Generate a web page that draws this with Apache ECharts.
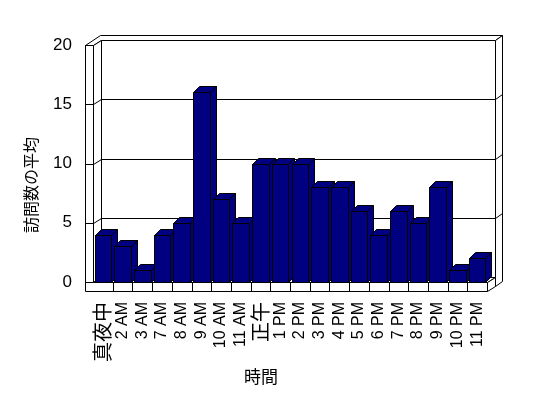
<!DOCTYPE html>
<html>
<head>
<meta charset="utf-8">
<script src="https://cdn.jsdelivr.net/npm/echarts@6/dist/echarts.min.js"></script>
<style>
html,body{margin:0;padding:0;background:#fff;}
#chart{width:548px;height:398px;}
</style>
</head>
<body>
<div id="chart"></div>
<script>
const categories = ['真夜中','2 AM','3 AM','7 AM','8 AM','9 AM','10 AM','11 AM','正午','1 PM','2 PM','3 PM','4 PM','5 PM','6 PM','7 PM','8 PM','9 PM','10 PM','11 PM'];
const visits = [4,3,1,4,5,16,7,5,10,10,10,8,8,6,4,6,5,8,1,2];
const yTicks = [0,5,10,15,20];
const xTitle = '時間';
const yTitle = '訪問数の平均';

const FONT = "'Liberation Sans','Noto Sans CJK JP',sans-serif";
const CJK = "'Noto Sans CJK JP',sans-serif";
const NAVY = '#000080';

const chart = echarts.init(document.getElementById('chart'), null, {renderer:'canvas'});

function px(v){ return Math.round(v) + 0.5; }

function renderFrame(params, api){
  const cs = params.coordSys;
  const X0 = px(cs.x), X1 = px(cs.x + cs.width);
  const y = v => px(api.coord([0, v])[1]);
  const Y0 = y(yTicks[0]), Yt = y(yTicks[yTicks.length-1]);
  const dx = 8, dy = -5, tx = 7, ty = -5, wt = 8, ft = 9;
  const fillSt = {fill:'#fff', stroke:'#000', lineWidth:1};
  const lnSt = {stroke:'#000', lineWidth:1};
  const ch = [];
  const poly = pts => ch.push({type:'polygon', shape:{points:pts}, style:fillSt});
  const line = (x1,y1,x2,y2) => ch.push({type:'line', shape:{x1,y1,x2,y2}, style:lnSt});
  // back wall
  poly([[X0+dx,Yt+dy],[X1+dx,Yt+dy],[X1+dx,Y0+dy],[X0+dx,Y0+dy]]);
  // top faces
  poly([[X0-wt,Yt],[X0,Yt],[X0+dx,Yt+dy],[X1+dx,Yt+dy],[X1+dx+tx,Yt+dy+ty],[X0-wt+dx+tx,Yt+dy+ty]]);
  // back wall right face
  poly([[X1+dx,Yt+dy],[X1+dx+tx,Yt+dy+ty],[X1+dx+tx,Y0+dy+ty+ft],[X1+dx,Y0+dy+ft]]);
  // left wall inner face
  poly([[X0,Yt],[X0+dx,Yt+dy],[X0+dx,Y0+dy],[X0,Y0]]);
  // floor top
  poly([[X0,Y0],[X0+dx,Y0+dy],[X1+dx,Y0+dy],[X1,Y0]]);
  // floor right face
  poly([[X1,Y0],[X1+dx,Y0+dy],[X1+dx,Y0+dy+ft],[X1,Y0+ft]]);
  // front L (left wall front + floor front)
  poly([[X0-wt,Yt],[X0,Yt],[X0,Y0],[X1,Y0],[X1,Y0+ft],[X0-wt,Y0+ft]]);
  // gridlines
  yTicks.forEach(v => {
    const yy = y(v);
    if (v !== yTicks[0] && v !== yTicks[yTicks.length-1]) {
      line(X0+dx, yy+dy, X1+dx, yy+dy);
      line(X0, yy, X0+dx, yy+dy);
      line(X1+dx, yy+dy, X1+dx+tx, yy+dy+ty);
    }
    line(X0-wt, yy, X0, yy);
  });
  // category dividers on floor front
  const band = cs.width / categories.length;
  for (let k = 1; k < categories.length; k++) {
    const xx = px(cs.x + k*band);
    line(xx, Y0, xx, Y0+ft);
  }
  return {type:'group', children: ch};
}

function renderBar(params, api){
  const xi = api.value(0), v = api.value(1);
  const b = api.coord([xi, 0]);
  const t = api.coord([xi, v]);
  const bw = api.size([1,0])[0] * 0.84;
  const l = px(b[0] - bw/2), r = px(b[0] + bw/2);
  const yb = px(b[1]), yt = px(t[1]);
  const dx = 6, dy = -6;
  const st = {fill:NAVY, stroke:'#000', lineWidth:1};
  return {type:'group', children:[
    {type:'polygon', shape:{points:[[r,yt],[r+dx,yt+dy],[r+dx,yb+dy],[r,yb]]}, style:st},
    {type:'polygon', shape:{points:[[l,yt],[l+dx,yt+dy],[r+dx,yt+dy],[r,yt]]}, style:st},
    {type:'polygon', shape:{points:[[l,yt],[r,yt],[r,yb],[l,yb]]}, style:st}
  ]};
}

const option = {
  backgroundColor:'#fff',
  animation:false,
  grid:{left:93, right:61, top:45, bottom:116, containLabel:false},
  xAxis:{
    type:'category', data:categories, boundaryGap:true,
    axisLine:{show:false}, axisTick:{show:false}, splitLine:{show:false},
    axisLabel:{
      interval:0, rotate:90, margin:20, color:'#000', fontSize:16, fontFamily:FONT,
      formatter: v => /[^\x00-\x7F]/.test(v) ? '{c|' + v + '}' : v,
      rich:{c:{fontSize:20, fontFamily:CJK, color:'#000'}}
    }
  },
  yAxis:{
    type:'value', min:0, max:20, interval:5,
    axisLine:{show:false}, axisTick:{show:false}, splitLine:{show:false},
    axisLabel:{margin:21, color:'#000', fontSize:17, fontFamily:FONT}
  },
  graphic:[{
    type:'text', x:31, y:185, rotation:Math.PI/2,
    style:{text:yTitle, fill:'#000', fontSize:16, fontFamily:CJK, align:'center', verticalAlign:'middle'}
  },{
    type:'text', x:261, y:377,
    style:{text:xTitle, fill:'#000', fontSize:17, fontFamily:CJK, align:'center', verticalAlign:'middle'}
  }],
  series:[
    {type:'custom', renderItem:renderFrame, data:[[0,0]], clip:false, silent:true, z:1},
    {type:'custom', renderItem:renderBar, data:visits.map((v,i)=>[i,v]), clip:false, z:2}
  ]
};
chart.setOption(option);
</script>
</body>
</html>
